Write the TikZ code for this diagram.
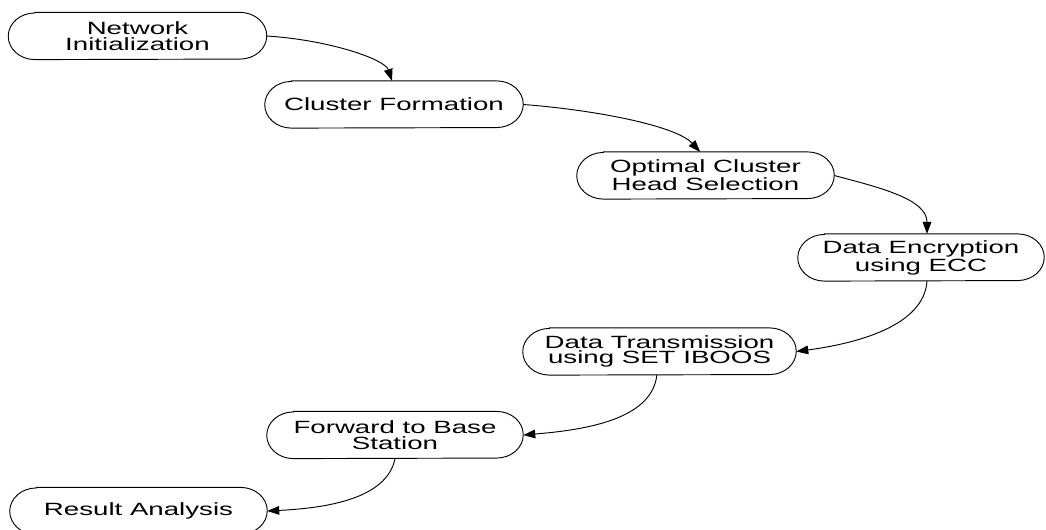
\documentclass[tikz,border=0pt]{standalone}
\usepackage{fontspec}
\setmainfont{Liberation Sans}[FakeStretch=1.56]
\usetikzlibrary{arrows.meta,calc}
\begin{document}
\begin{tikzpicture}[x=0.75pt,y=-0.75pt,
  stage/.style={rectangle, minimum height=35pt, inner sep=0pt, align=center,
    font=\fontsize{13.3pt}{11.6pt}\selectfont},
  outline/.style={line width=0.7pt},
  flow/.style={line width=0.7pt, -{Triangle[length=9pt,width=6.5pt]}}]
\useasboundingbox (0,0) rectangle (1046,529);
\node[stage, minimum width=193.5pt] (n1) at (137.5,36) {Network\\Initialization};
\node[stage, minimum width=193.5pt] (n2) at (394,104.5) {Cluster Formation};
\node[stage, minimum width=192.75pt] (n3) at (705.5,175.5) {Optimal Cluster\\Head Selection};
\node[stage, minimum width=184.5pt] (n4) at (921,257.5) {Data Encryption\\using ECC};
\node[stage, minimum width=204.75pt] (n5) at (659.5,351.5) {Data Transmission\\using SET IBOOS};
\node[stage, minimum width=192pt] (n6) at (395,435) {Forward to Base\\Station};
\node[stage, minimum width=192.75pt] (n7) at (138.5,511) {Result Analysis};

\foreach \n in {n1,n2,n3,n4,n5,n6,n7}{
  \draw[outline] ([xshift=20pt]\n.north west) -- ([xshift=-20pt]\n.north east)
    arc[start angle=90, end angle=-90, x radius=20pt, y radius=17.5pt]
    -- ([xshift=20pt]\n.south west)
    arc[start angle=270, end angle=90, x radius=20pt, y radius=17.5pt] -- cycle;
}

\draw[flow] (n1.east) .. controls +(63,4) and +(-7,-21.5) .. ([xshift=-1.5pt]n2.north);
\draw[flow] (n2.east) .. controls +(67,5) and +(-25,-27) .. ([xshift=-4pt]n3.north);
\draw[flow] (n3.east) .. controls +(45,12) and +(0,-35) .. ([xshift=4.5pt]n4.north);
\draw[flow] ([xshift=4.5pt]n4.south) .. controls +(-3,45) and +(60,-8) .. (n5.east);
\draw[flow] ([xshift=-2pt]n5.south) .. controls +(-5,45) and +(60,-5) .. (n6.east);
\draw[flow] (n6.south) .. controls +(-8,40) and +(60,-3) .. (n7.east);
\end{tikzpicture}
\end{document}
